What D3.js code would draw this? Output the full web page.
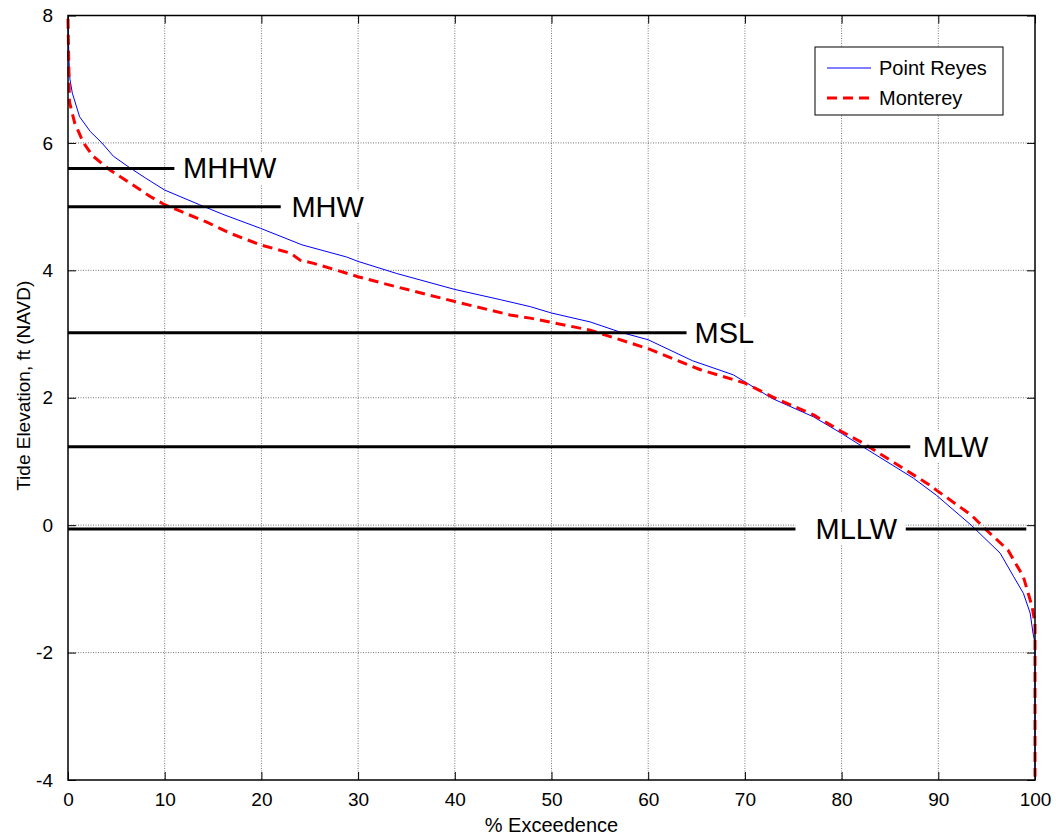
<!DOCTYPE html>
<html>
<head>
<meta charset="utf-8">
<script src="https://cdn.jsdelivr.net/npm/d3@7"></script>
<style>
  html, body { margin: 0; padding: 0; background: #fff; }
  svg { display: block; font-family: Arial, "Liberation Sans", Helvetica, sans-serif; }
</style>
</head>
<body>
<svg id="chart" width="1056" height="836"></svg>
<script>
// ---- data ----
const xTicks = [0, 10, 20, 30, 40, 50, 60, 70, 80, 90, 100];
const yTicks = [-4, -2, 0, 2, 4, 6, 8];

const pointReyesPct = [0, 0.1, 0.2, 0.45, 1.2, 2.3, 3.5, 4.7, 6.2, 8, 10, 13.6, 16, 19.9, 24.2, 28.8, 30, 34, 40, 44.7, 47.8, 50, 54, 57.1, 60, 64.6, 68.8, 70, 72.8, 77.1, 80, 82.2, 87.4, 89.8, 93.4, 96.4, 97.8, 98.8, 99.5, 99.8, 100, 100];
const pointReyesElev = [7.95, 7.3, 7.0, 6.78, 6.41, 6.18, 6.0, 5.79, 5.63, 5.45, 5.26, 5.03, 4.88, 4.66, 4.40, 4.21, 4.14, 3.95, 3.70, 3.54, 3.43, 3.33, 3.19, 3.03, 2.91, 2.58, 2.36, 2.25, 1.99, 1.70, 1.44, 1.23, 0.74, 0.47, 0.0, -0.44, -0.81, -1.07, -1.38, -1.70, -1.85, -3.95];

const montereyPct = [0, 0.15, 0.3, 0.7, 1.6, 2.6, 4.3, 6.4, 8.5, 10, 14.3, 16.8, 19.9, 23, 24, 25.4, 30, 34, 40, 45.7, 47.8, 49.8, 54, 60, 65.4, 70, 72.9, 77.1, 80, 82.2, 89.1, 89.8, 93.4, 95, 97.2, 98.8, 99.7, 100, 100];
const montereyElev = [7.95, 6.65, 6.55, 6.31, 6.0, 5.79, 5.58, 5.37, 5.16, 5.03, 4.76, 4.58, 4.40, 4.27, 4.16, 4.11, 3.90, 3.74, 3.51, 3.30, 3.25, 3.19, 3.06, 2.77, 2.44, 2.23, 2.01, 1.73, 1.47, 1.29, 0.63, 0.55, 0.16, -0.08, -0.39, -0.81, -1.28, -1.54, -3.95];

const levelNames = ["MHHW", "MHW", "MSL", "MLW", "MLLW"];
const levelElev = [5.6, 5.0, 3.02, 1.23, -0.06];
const levelLineEnd = [11, 22, 64, 87.1, 99.1];
const levelLabelAt = [11.9, 23.1, 64.8, 88.4, 77.3];

const seriesNames = ["Point Reyes", "Monterey"];

// ---- layout ----
const plot = { left: 68, right: 1035, top: 15.5, bottom: 780 };
const svg = d3.select("#chart");

const x = d3.scaleLinear().domain([0, 100]).range([plot.left, plot.right]);
const y = d3.scaleLinear().domain([-4, 8]).range([plot.bottom, plot.top]);
const fmt = d => String(d);

// grid
const grid = svg.append("g");
grid.selectAll("line.gx").data(xTicks.slice(1, -1)).enter().append("line")
  .attr("x1", d => x(d)).attr("x2", d => x(d))
  .attr("y1", plot.top).attr("y2", plot.bottom)
  .attr("stroke", "#777").attr("stroke-width", 1).attr("stroke-dasharray", "1,1.5");
grid.selectAll("line.gy").data(yTicks.slice(1, -1)).enter().append("line")
  .attr("y1", d => y(d)).attr("y2", d => y(d))
  .attr("x1", plot.left).attr("x2", plot.right)
  .attr("stroke", "#777").attr("stroke-width", 1).attr("stroke-dasharray", "1,1.5");

// axes (ticks inward)
const tickLen = 8;
const axB = svg.append("g").attr("transform", `translate(0,${plot.bottom})`)
  .call(d3.axisBottom(x).tickValues(xTicks).tickFormat(fmt).tickSizeInner(-tickLen).tickSizeOuter(0).tickPadding(tickLen + 5));
const axT = svg.append("g").attr("transform", `translate(0,${plot.top})`)
  .call(d3.axisTop(x).tickValues(xTicks).tickSizeInner(-tickLen).tickSizeOuter(0).tickFormat(""));
const axL = svg.append("g").attr("transform", `translate(${plot.left},0)`)
  .call(d3.axisLeft(y).tickValues(yTicks).tickFormat(fmt).tickSizeInner(-tickLen).tickSizeOuter(0).tickPadding(tickLen + 7));
const axR = svg.append("g").attr("transform", `translate(${plot.right},0)`)
  .call(d3.axisRight(y).tickValues(yTicks).tickSizeInner(-tickLen).tickSizeOuter(0).tickFormat(""));
[axB, axT, axL, axR].forEach(a => {
  a.select(".domain").remove();
  a.selectAll(".tick line").attr("stroke", "#000").attr("stroke-width", 1);
  a.selectAll("text").attr("fill", "#000").style("font-size", "19px").style("font-family", "Arial, 'Liberation Sans', sans-serif");
});
axB.selectAll("text").attr("dy", "0.71em");

// curves
const line = d3.line().x(d => x(d[0])).y(d => y(d[1]));
const prData = pointReyesPct.map((p, i) => [p, pointReyesElev[i]]);
const mData = montereyPct.map((p, i) => [p, montereyElev[i]]);

svg.append("path").datum(prData).attr("d", line)
  .attr("fill", "none").attr("stroke", "#0000ff").attr("stroke-width", 1);
svg.append("path").datum(mData).attr("d", line)
  .attr("fill", "none").attr("stroke", "#ff0000").attr("stroke-width", 3)
  .attr("stroke-dasharray", "10,6");

// level lines
const levels = levelNames.map((n, i) => ({ name: n, v: levelElev[i], end: levelLineEnd[i], at: levelLabelAt[i] }));
svg.selectAll("line.level").data(levels).enter().append("line")
  .attr("x1", x(0)).attr("x2", d => x(d.end))
  .attr("y1", d => y(d.v)).attr("y2", d => y(d.v))
  .attr("stroke", "#000").attr("stroke-width", 3);

// level labels with white background
const padLeft = { MLLW: 20 };
const lab = svg.selectAll("g.lab").data(levels).enter().append("g");
lab.each(function(d) {
  const g = d3.select(this);
  const rect = g.append("rect").attr("fill", "#fff");
  const t = g.append("text")
    .attr("x", x(d.at)).attr("y", y(d.v) + 10)
    .style("font-size", "29px").attr("fill", "#000")
    .text(d.name);
  const bb = t.node().getBBox();
  const pl = padLeft[d.name] || 8;
  rect.attr("x", bb.x - pl).attr("width", bb.width + pl + 8)
    .attr("y", y(d.v) - 16).attr("height", 32);
});

// frame
svg.append("rect").attr("x", plot.left).attr("y", plot.top)
  .attr("width", plot.right - plot.left).attr("height", plot.bottom - plot.top)
  .attr("fill", "none").attr("stroke", "#000").attr("stroke-width", 1.5);

// legend
const leg = { x0: 815, y0: 47, x1: 1003, y1: 115 };
svg.append("rect").attr("x", leg.x0).attr("y", leg.y0)
  .attr("width", leg.x1 - leg.x0).attr("height", leg.y1 - leg.y0)
  .attr("fill", "#fff").attr("stroke", "#000").attr("stroke-width", 1);
const legRows = [
  { name: seriesNames[0], color: "#0000ff", w: 1, dash: null, yy: 68 },
  { name: seriesNames[1], color: "#ff0000", w: 3, dash: "10,6", yy: 98 }
];
legRows.forEach(r => {
  svg.append("line").attr("x1", 827).attr("x2", 871).attr("y1", r.yy).attr("y2", r.yy)
    .attr("stroke", r.color).attr("stroke-width", r.w).attr("stroke-dasharray", r.dash);
  svg.append("text").attr("x", 879).attr("y", r.yy + 7)
    .style("font-size", "20px").attr("fill", "#000").text(r.name);
});

// axis labels
svg.append("text").attr("x", (plot.left + plot.right) / 2).attr("y", 832)
  .attr("text-anchor", "middle").style("font-size", "20px").attr("fill", "#000")
  .text("% Exceedence");
svg.append("text").attr("transform", `translate(30,${(plot.top + plot.bottom) / 2 - 12}) rotate(-90)`)
  .attr("text-anchor", "middle").style("font-size", "19px").attr("fill", "#000")
  .text("Tide Elevation, ft (NAVD)");
</script>
</body>
</html>
